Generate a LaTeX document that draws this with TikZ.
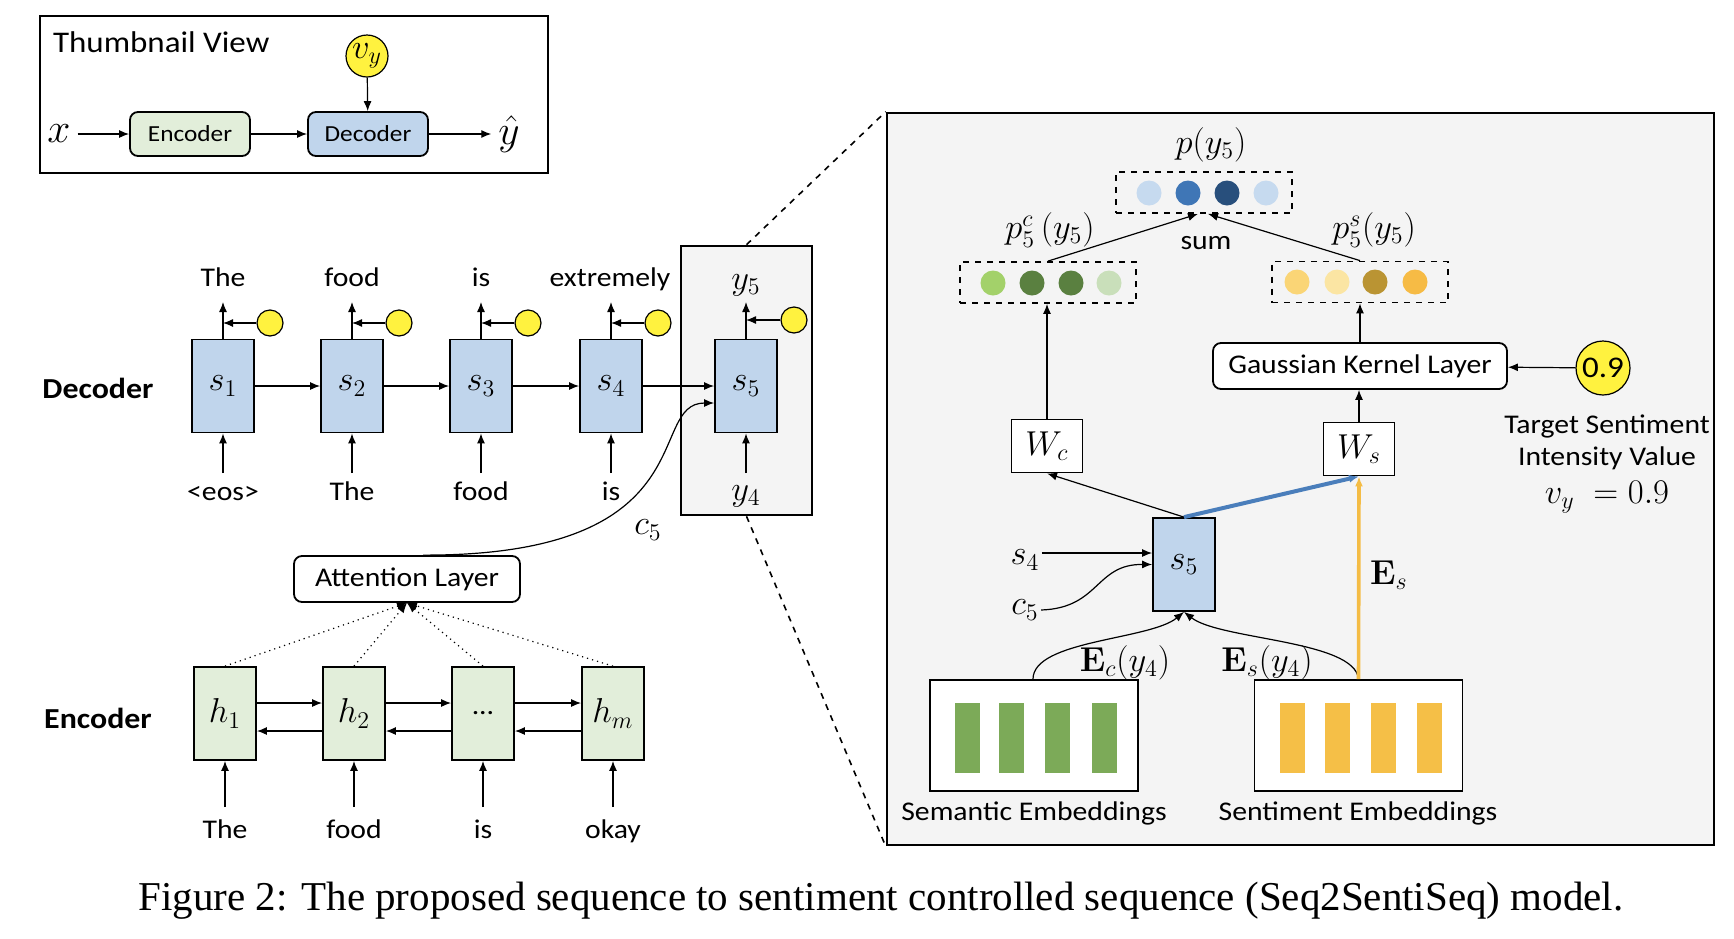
\documentclass[tikz,border=0pt]{standalone}
\usepackage[no-math]{fontspec}
\setmainfont{Carlito}[FakeStretch=1.1]
\newfontfamily\capfont{Liberation Serif}
\usepackage{xcolor}
\usepackage{tikz}
\usetikzlibrary{positioning, arrows.meta}
\definecolor{DecBlue}{HTML}{C0D5EC}
\definecolor{EncGreen}{HTML}{E2EEDA}
\definecolor{DotYellow}{HTML}{FFF23F}
\definecolor{PanelGray}{HTML}{F4F4F4}
\definecolor{PBlueA}{HTML}{C6DAEF}
\definecolor{PBlueB}{HTML}{3F76B6}
\definecolor{PBlueC}{HTML}{284F7C}
\definecolor{PGreenA}{HTML}{A3D16A}
\definecolor{PGreenB}{HTML}{5A8040}
\definecolor{PGreenC}{HTML}{C9DFBA}
\definecolor{PGoldA}{HTML}{FAD576}
\definecolor{PGoldB}{HTML}{FBE5A3}
\definecolor{PGoldC}{HTML}{BA9433}
\definecolor{PGoldD}{HTML}{F6BB45}
\definecolor{BarGreen}{HTML}{7CAA58}
\definecolor{BarGold}{HTML}{F5BF47}
\definecolor{BlueLine}{HTML}{4A7EBB}
\definecolor{GoldLine}{HTML}{F4BC45}

\begin{document}
\begin{tikzpicture}[x=0.5pt, y=-0.5pt,
    font=\fontsize{13.5}{16}\selectfont,
    cell/.style={draw, line width=0.9pt, minimum width=31pt, minimum height=46.5pt, inner sep=0pt, font=\fontsize{18.5}{21}\selectfont},
    deccell/.style={cell, fill=DecBlue},
    enccell/.style={cell, fill=EncGreen},
    layerbox/.style={draw, line width=0.9pt, rounded corners=4pt, fill=white, inner sep=0pt},
    wbox/.style={draw, line width=0.9pt, fill=white, minimum width=35.5pt, minimum height=26.5pt, inner sep=0pt, font=\fontsize{18.5}{21}\selectfont},
    ydot/.style={circle, draw, line width=0.6pt, fill=DotYellow, inner sep=0pt},
    probbox/.style={draw, dashed, line width=0.9pt, minimum width=88pt, minimum height=20.5pt, inner sep=0pt},
    mlabel/.style={inner sep=1pt, font=\fontsize{18.5}{21}\selectfont},
    word/.style={anchor=base, inner sep=1pt},
    sidelabel/.style={font=\fontsize{14.5}{17}\selectfont\bfseries},
    arrow/.style={->, >={Latex[length=5pt,width=4pt]}, line width=0.6pt}
  ]
  \useasboundingbox (0,0) rectangle (1734,938);

  % thumbnail view
  \draw[line width=0.9pt] (40,16) rectangle (548,173);
  \node[anchor=west, font=\fontsize{15}{18}\selectfont] (thumbtitle) at (46,42) {Thumbnail View};
  \node[layerbox, fill=EncGreen, minimum width=60pt, minimum height=22pt, font=\fontsize{11.5}{14}\selectfont] (tenc) at (190,134) {Encoder};
  \node[layerbox, fill=DecBlue, minimum width=60pt, minimum height=22pt, font=\fontsize{11.5}{14}\selectfont] (tdec) at (368,134) {Decoder};
  \node[font=\fontsize{20}{24}\selectfont] (tx) at (59,134) {$x$};
  \node[font=\fontsize{20}{24}\selectfont] (ty) at (509,134) {$\hat{y}$};
  \node[ydot, minimum size=21pt, font=\fontsize{18.5}{21}\selectfont] (tv) at (367,56) {$v_y$};
  \draw[arrow] (tx) -- (tenc);
  \draw[arrow] (tenc) -- (tdec);
  \draw[arrow] (tdec) -- (ty);
  \draw[arrow] (tv) -- (tdec);

  % decoder
  \node[sidelabel] (declabel) at (98,388) {Decoder};
  \node[deccell] (s1) at (223,386) {$s_1$};
  \node[deccell] (s2) at (352,386) {$s_2$};
  \node[deccell] (s3) at (481,386) {$s_3$};
  \node[deccell] (s4) at (611,386) {$s_4$};
  \node[draw, line width=1.3pt, fill=PanelGray, minimum width=65.5pt, minimum height=134.5pt, inner sep=0pt] (zoomframe) at (746.5,380.5) {};
  \node[deccell] (s5) at (746,386) {$s_5$};

  \node[word] (o1) at (223,286) {The};
  \node[word] (o2) at (352,286) {food};
  \node[word] (o3) at (481,286) {is};
  \node[word] (o4) at (610,286) {extremely};
  \node[mlabel, anchor=base] (o5) at (746,289) {$y_5$};
  \coordinate (t1) at (223,302);
  \coordinate (t2) at (352,302);
  \coordinate (t3) at (481,302);
  \coordinate (t4) at (611,302);
  \coordinate (t5) at (746,302);
  \draw[arrow] (s1.north) -- (t1);
  \draw[arrow] (s2.north) -- (t2);
  \draw[arrow] (s3.north) -- (t3);
  \draw[arrow] (s4.north) -- (t4);
  \draw[arrow] (s5.north) -- (t5);

  \node[ydot, minimum size=13pt] (g1) at (270,323) {};
  \node[ydot, minimum size=13pt] (g2) at (399,323) {};
  \node[ydot, minimum size=13pt] (g3) at (528,323) {};
  \node[ydot, minimum size=13pt] (g4) at (658,323) {};
  \node[ydot, minimum size=13pt] (g5) at (794,320) {};
  \draw[arrow] (g1) -- (g1 -| s1);
  \draw[arrow] (g2) -- (g2 -| s2);
  \draw[arrow] (g3) -- (g3 -| s3);
  \draw[arrow] (g4) -- (g4 -| s4);
  \draw[arrow] (g5) -- (g5 -| s5);

  \node[word] (i1) at (223,500) {<eos>};
  \node[word] (i2) at (352,500) {The};
  \node[word] (i3) at (481,500) {food};
  \node[word] (i4) at (611,500) {is};
  \node[mlabel, anchor=base] (i5) at (746,500) {$y_4$};
  \coordinate (b1) at (223,473);
  \coordinate (b2) at (352,473);
  \coordinate (b3) at (481,473);
  \coordinate (b4) at (611,473);
  \coordinate (b5) at (746,473);
  \draw[arrow] (b1) -- (s1.south);
  \draw[arrow] (b2) -- (s2.south);
  \draw[arrow] (b3) -- (s3.south);
  \draw[arrow] (b4) -- (s4.south);
  \draw[arrow] (b5) -- (s5.south);

  \draw[arrow] (s1) -- (s2);
  \draw[arrow] (s2) -- (s3);
  \draw[arrow] (s3) -- (s4);
  \draw[arrow] (s4) -- (s5);

  % attention
  \node[layerbox, minimum width=113pt, minimum height=23pt] (att) at (407,579) {Attention Layer};
  \draw[arrow] ([xshift=8pt]att.north) .. controls (710,556) and (645,403) .. ([yshift=-8.5pt]s5.west);
  \node[mlabel] (c5) at (648,530) {$c_5$};

  % encoder
  \node[sidelabel] (enclabel) at (98,718) {Encoder};
  \node[enccell] (h1) at (225,713.5) {$h_1$};
  \node[enccell] (h2) at (354,713.5) {$h_2$};
  \node[enccell, font=\fontsize{13.5}{16}\selectfont] (h3) at (483,713.5) {...};
  \node[enccell] (h4) at (613,713.5) {$h_m$};
  \draw[arrow] ([yshift=5.25pt]h1.east) -- ([yshift=5.25pt]h2.west);
  \draw[arrow] ([yshift=5.25pt]h2.east) -- ([yshift=5.25pt]h3.west);
  \draw[arrow] ([yshift=5.25pt]h3.east) -- ([yshift=5.25pt]h4.west);
  \draw[arrow] ([yshift=-8.75pt]h2.west) -- ([yshift=-8.75pt]h1.east);
  \draw[arrow] ([yshift=-8.75pt]h3.west) -- ([yshift=-8.75pt]h2.east);
  \draw[arrow] ([yshift=-8.75pt]h4.west) -- ([yshift=-8.75pt]h3.east);
  \draw[arrow, dotted] (h1.north) -- (att.south);
  \draw[arrow, dotted] (h2.north) -- (att.south);
  \draw[arrow, dotted] (h3.north) -- (att.south);
  \draw[arrow, dotted] (h4.north) -- (att.south);

  \node[word] (w1) at (225,838) {The};
  \node[word] (w2) at (354,838) {food};
  \node[word] (w3) at (483,838) {is};
  \node[word] (w4) at (613,838) {okay};
  \coordinate (e1) at (225,807);
  \coordinate (e2) at (354,807);
  \coordinate (e3) at (483,807);
  \coordinate (e4) at (613,807);
  \draw[arrow] (e1) -- (h1.south);
  \draw[arrow] (e2) -- (h2.south);
  \draw[arrow] (e3) -- (h3.south);
  \draw[arrow] (e4) -- (h4.south);

  % detail panel
  \node[draw, line width=1.3pt, fill=PanelGray, minimum width=413.5pt, minimum height=366pt, inner sep=0pt] (detail) at (1300.5,479) {};
  \draw[dashed, line width=0.8pt] (zoomframe.north) -- (detail.north west);
  \draw[dashed, line width=0.8pt] (zoomframe.south) -- (detail.south west);

  \node[mlabel] (py) at (1211,145) {$p(y_5)$};
  \node[probbox] (psum) at (1204,192.5) {};
  \foreach \x/\c in {1149/PBlueA, 1188/PBlueB, 1227/PBlueC, 1266/PBlueA}
    \fill[\c] (\x,193) circle[radius=6.25pt];
  \node[mlabel] (pcl) at (1050,230) {$p_5^c\,(y_5)$};
  \node[probbox] (pc) at (1048,282.5) {};
  \foreach \x/\c in {993/PGreenA, 1032/PGreenB, 1071/PGreenB, 1109/PGreenC}
    \fill[\c] (\x,283) circle[radius=6.25pt];
  \node[mlabel] (psl) at (1374,230) {$p_5^s(y_5)$};
  \node[probbox] (ps) at (1360,282) {};
  \foreach \x/\c in {1297/PGoldA, 1337/PGoldB, 1375/PGoldC, 1415/PGoldD}
    \fill[\c] (\x,282) circle[radius=6.25pt];
  \node (sum) at (1206,243) {sum};
  \draw[arrow] (pc.north) -- ([xshift=-3pt]psum.south);
  \draw[arrow] (ps.north) -- ([xshift=2pt]psum.south);

  \node[layerbox, minimum width=147pt, minimum height=23pt] (gk) at (1360,366) {Gaussian Kernel Layer};
  \node[ydot, minimum size=27pt, font=\fontsize{15}{18}\selectfont] (val) at (1603,368) {0.9};
  \draw[arrow] (val) -- (gk);
  \draw[arrow] (gk.north) -- (ps.south -| gk.north);

  \node[wbox] (wc) at (1047,446) {$W_c$};
  \node[wbox] (ws) at (1359,449) {$W_s$};
  \draw[arrow] (ws.north) -- (gk.south -| ws.north);
  \draw[arrow] (wc.north) -- (pc.south -| wc.north);
  \node[align=center] (target) at (1607,442) {Target Sentiment\\Intensity Value};
  \node[mlabel, anchor=base] (vy) at (1607,503) {$v_y\ = 0.9$};

  \node[deccell] (ds5) at (1184,564.5) {$s_5$};
  \draw[arrow] (ds5.north) -- (wc.south);
  \draw[arrow, BlueLine, line width=2pt] (ds5.north) -- (ws.south);
  \node[mlabel] (ls4) at (1025,560) {$s_4$};
  \node[mlabel] (lc5) at (1025,610) {$c_5$};
  \draw[arrow] ([yshift=3.5pt]ls4.east) -- ([yshift=5.75pt]ds5.west);
  \draw[arrow] (lc5.east) .. controls (1100,608) and (1095,564) .. (ds5.west);

  \node[draw, line width=0.9pt, fill=white, minimum width=104pt, minimum height=55.5pt, inner sep=0pt] (semb) at (1034,735.5) {};
  \node[draw, line width=0.9pt, fill=white, minimum width=104pt, minimum height=55.5pt, inner sep=0pt] (senb) at (1358.5,735.5) {};
  \foreach \x in {955,999,1045,1092}
    \fill[BarGreen] (\x,703) rectangle ++(25,70);
  \foreach \x in {1280,1325,1371,1417}
    \fill[BarGold] (\x,703) rectangle ++(25,70);
  \node (semlabel) at (1034,813) {Semantic Embeddings};
  \node (senlabel) at (1358,813) {Sentiment Embeddings};

  \draw[arrow] ([xshift=-0.5pt]semb.north) .. controls (1033,640) and (1150,640) .. (ds5.south);
  \draw[arrow] (senb.north) .. controls (1355,640) and (1220,640) .. (ds5.south);
  \node[mlabel] (ecl) at (1125,663) {$\mathbf{E}_c(y_4)$};
  \node[mlabel] (esl) at (1267,663) {$\mathbf{E}_s(y_4)$};
  \draw[arrow, GoldLine, line width=1.8pt] (senb.north) -- (ws.south);
  \node[mlabel] (esbig) at (1389,575) {$\mathbf{E}_s$};

  % caption
  \node[font=\capfont\fontsize{20.5}{24}\selectfont] (caption) at (881,901) {Figure 2: The proposed sequence to sentiment controlled sequence (Seq2SentiSeq) model.};
\end{tikzpicture}
\end{document}
